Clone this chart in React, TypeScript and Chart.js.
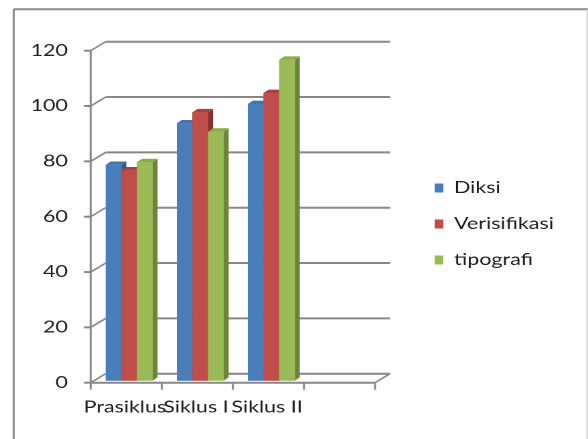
import React, { useEffect, useRef } from "react";
import { Chart, registerables } from "chart.js";

Chart.register(...registerables);

// ---------- data ----------
const categories = ["Prasiklus", "Siklus I", "Siklus II", ""];
const seriesNames = ["Diksi", "Verisifikasi", "tipografi"];
const diksi = [78, 93, 100, null];
const verisifikasi = [76, 97, 104, null];
const tipografi = [79, 90, 116, null];
const yTicks = [0, 20, 40, 60, 80, 100, 120];

// ---------- styles ----------
const frontColors = ["#4a7ebb", "#bf4d4a", "#9aba58"];
const topColors = ["#4274b0", "#ad403d", "#8bab4b"];
const sideColors = ["#345a8a", "#8a2f2c", "#6b8637"];
const GRID = "#878787";
const TEXT = "#1e1e1e";
const FONT_FAMILY = "Lato";
const FONT_SIZE = 16;

// logical canvas (stretched horizontally by CSS to 588px)
const W = 439;
const H = 439;
const CSS_W = 588;
const CSS_H = 439;

const PLOT_L = 69.9;
const PLOT_R = 292.2;
const PLOT_T = 48.7;
const PLOT_B = 380.7;
const PAD_TOP = 9;
const LEG_PAD = 20;
const BOX_W = 6.5;
const BOX_H = 9;
const LEGEND_LEFT = 314.5;

// depth offsets relative to bar plane
const FX = -2.2, FY = 2;
const BX = 9, BY = -7;
const DX = 3.7, DY = 3.4;

function line(ctx: CanvasRenderingContext2D, x1: number, y1: number, x2: number, y2: number, w: number) {
  ctx.lineWidth = w;
  ctx.beginPath();
  ctx.moveTo(x1, y1);
  ctx.lineTo(x2, y2);
  ctx.stroke();
}

const framePlugin = {
  id: "frame3d",
  beforeDraw(chart: any) {
    const ctx: CanvasRenderingContext2D = chart.ctx;
    ctx.save();
    ctx.fillStyle = "#ffffff";
    ctx.fillRect(0, 0, chart.width, chart.height);
    ctx.strokeStyle = "#888888";
    line(ctx, 10.2, 9.2, 10.2, chart.height + 5, 1.5);
    line(ctx, 10.2, 9.2, chart.width + 5, 9.2, 2);
    ctx.strokeStyle = "#d4d4d4";
    line(ctx, 438.4, 9.2, 438.4, chart.height + 5, 1.2);
    ctx.restore();
  },
  beforeDatasetsDraw(chart: any) {
    const ctx: CanvasRenderingContext2D = chart.ctx;
    const ca = chart.chartArea;
    const xs = chart.scales.x;
    const ys = chart.scales.y;
    ctx.save();
    ctx.strokeStyle = GRID;
    ctx.lineCap = "butt";
    const fl = ca.left + FX, fr = ca.right + FX;
    const bl = ca.left + BX, br = ca.right + BX;
    const p0 = ys.getPixelForValue(0);
    const pTop = ys.getPixelForValue(yTicks[yTicks.length - 1]);
    for (const v of yTicks) {
      const py = ys.getPixelForValue(v);
      line(ctx, bl, py + BY, br, py + BY, 2);
      line(ctx, fl, py + FY, bl, py + BY, 1.5);
      line(ctx, fl - 5, py + FY, fl, py + FY, 2);
    }
    line(ctx, br, p0 + BY, fr, p0 + FY, 1.5);
    line(ctx, fl, pTop + FY, fl, p0 + FY, 1.5);
    line(ctx, fl, p0 + FY, fr, p0 + FY, 2);
    const n = categories.length;
    const slot = (ca.right - ca.left) / n;
    for (let i = 0; i <= n; i++) {
      const px = (i < n ? xs.getPixelForValue(i) - slot / 2 : xs.getPixelForValue(n - 1) + slot / 2) + FX;
      line(ctx, px, p0 + FY, px, p0 + FY + 7, 1.5);
    }
    ctx.restore();
  },
  afterDatasetsDraw(chart: any) {
    const ctx: CanvasRenderingContext2D = chart.ctx;
    ctx.save();
    const nCat = categories.length;
    const nDs = chart.data.datasets.length;
    for (let i = 0; i < nCat; i++) {
      for (let d = 0; d < nDs; d++) {
        const v = chart.data.datasets[d].data[i];
        if (v === null || v === undefined) continue;
        const el = chart.getDatasetMeta(d).data[i];
        if (!el) continue;
        const { x, y, base, width } = el.getProps(["x", "y", "base", "width"], true);
        const l = x - width / 2;
        const r = x + width / 2;
        ctx.fillStyle = sideColors[d];
        ctx.beginPath();
        ctx.moveTo(r, y);
        ctx.lineTo(r + DX, y - DY);
        ctx.lineTo(r + DX, base - DY);
        ctx.lineTo(r, base);
        ctx.closePath();
        ctx.fill();
        ctx.fillStyle = topColors[d];
        ctx.beginPath();
        ctx.moveTo(l, y);
        ctx.lineTo(l + DX, y - DY);
        ctx.lineTo(r + DX, y - DY);
        ctx.lineTo(r, y);
        ctx.closePath();
        ctx.fill();
        ctx.fillStyle = frontColors[d];
        ctx.fillRect(l, y, width, base - y);
      }
    }
    ctx.restore();
  },
};

export default function App() {
  const canvasRef = useRef<HTMLCanvasElement | null>(null);

  useEffect(() => {
    const canvas = canvasRef.current;
    if (!canvas) return;

    const mctx = document.createElement("canvas").getContext("2d") as CanvasRenderingContext2D;
    mctx.font = `${FONT_SIZE}px ${FONT_FAMILY}`;
    const textW = Math.max(...seriesNames.map((s) => mctx.measureText(s).width));
    const legendW = LEG_PAD + BOX_W + FONT_SIZE / 2 + textW;
    const padRight = Math.max(0, W - LEGEND_LEFT - legendW);

    const seriesData = [diksi, verisifikasi, tipografi];

    const chart = new Chart(canvas, {
      type: "bar",
      data: {
        labels: categories,
        datasets: seriesNames.map((name, i) => ({
          label: name,
          data: seriesData[i],
          backgroundColor: frontColors[i],
          borderWidth: 0,
          categoryPercentage: 0.66,
          barPercentage: 1.0,
          xAxisID: "x",
          yAxisID: "y",
        })),
      },
      options: {
        responsive: false,
        animation: false,
        devicePixelRatio: 2,
        layout: {
          padding: { left: 0, right: padRight, top: PAD_TOP, bottom: 0 },
        },
        plugins: {
          legend: {
            position: "right",
            align: "center",
            maxWidth: 300,
            labels: {
              boxWidth: BOX_W,
              boxHeight: BOX_H,
              padding: LEG_PAD,
              color: TEXT,
              font: { family: FONT_FAMILY, size: FONT_SIZE },
            },
          },
          tooltip: { enabled: false },
        },
        scales: {
          x: {
            type: "category",
            position: "bottom",
            grid: { display: false, drawTicks: false },
            border: { display: false },
            ticks: {
              color: TEXT,
              font: { family: FONT_FAMILY, size: FONT_SIZE },
              padding: 17,
              labelOffset: FX - 1,
              maxRotation: 0,
              minRotation: 0,
              autoSkip: false,
            },
            afterFit: (s: any) => {
              s.height = H - PLOT_B;
            },
          },
          y: {
            type: "linear",
            position: "left",
            min: 0,
            max: 120,
            grid: { display: false, drawTicks: false },
            border: { display: false },
            afterBuildTicks: (s: any) => {
              s.ticks = yTicks.map((v) => ({ value: v }));
            },
            ticks: {
              color: TEXT,
              font: { family: FONT_FAMILY, size: FONT_SIZE },
              padding: 19.2,
              labelOffset: FY,
            },
            afterFit: (s: any) => {
              s.width = PLOT_L;
            },
          },
          gap: {
            type: "linear",
            position: "right",
            display: true,
            grid: { display: false, drawTicks: false },
            border: { display: false },
            ticks: { display: false },
            afterFit: (s: any) => {
              s.width = LEGEND_LEFT - PLOT_R;
            },
          },
          topgap: {
            type: "linear",
            position: "top",
            display: true,
            grid: { display: false, drawTicks: false },
            border: { display: false },
            ticks: { display: false },
            afterFit: (s: any) => {
              s.height = PLOT_T - PAD_TOP;
            },
          },
        },
      },
      plugins: [framePlugin],
    } as any);

    return () => {
      chart.destroy();
    };
  }, []);

  return (
    <div style={{ position: "fixed", left: 0, top: 0, width: CSS_W, height: CSS_H, background: "#fff" }}>
      <canvas
        ref={canvasRef}
        width={W}
        height={H}
        style={{ width: `${CSS_W}px`, height: `${CSS_H}px`, display: "block" }}
      />
    </div>
  );
}
